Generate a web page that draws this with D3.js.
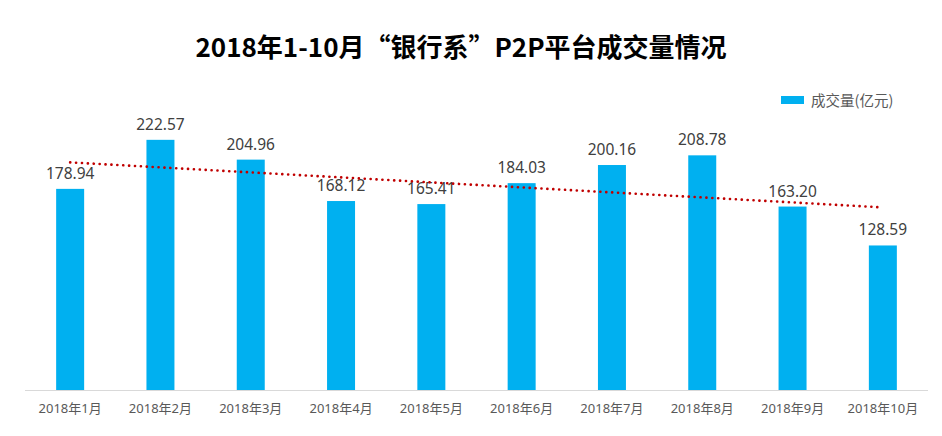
<!DOCTYPE html>
<html><head><meta charset="utf-8">
<script src="https://cdn.jsdelivr.net/npm/d3@7"></script>
<style>
html,body{margin:0;padding:0;background:#fff;}
text{font-family:"Noto Sans","Noto Sans CJK SC",sans-serif;}
</style></head>
<body><svg id="c" width="942" height="436"></svg>
<script>
const title = "2018年1-10月“银行系”P2P平台成交量情况";
const categories = ["2018年1月","2018年2月","2018年3月","2018年4月","2018年5月","2018年6月","2018年7月","2018年8月","2018年9月","2018年10月"];
const volumes = [178.94,222.57,204.96,168.12,165.41,184.03,200.16,208.78,163.20,128.59];
const seriesName = "成交量(亿元)";
const yDomain = [0,250];

const svg = d3.select("#c");
const m = {left:25, right:14, top:109, bottom:46};
const W = 942, H = 436;
const x = d3.scaleBand().domain(categories).range([m.left, W-m.right]).paddingInner(0.69).paddingOuter(0.345);
const y = d3.scaleLinear().domain(yDomain).range([H-m.bottom, m.top]);

svg.append("text").attr("x",461).attr("y",57).attr("text-anchor","middle")
  .style("font-size","26px").style("font-weight","bold").attr("fill","#000")
  .style("font-family","'Noto Sans CJK SC',sans-serif").text(title);

// bars
svg.selectAll("rect.bar").data(volumes).join("rect").attr("class","bar")
  .attr("x",(d,i)=>x(categories[i])).attr("width",x.bandwidth())
  .attr("y",d=>y(d)).attr("height",d=>y(0)-y(d)).attr("fill","#00b0f0");

// axis
const xa = svg.append("g").attr("transform",`translate(0,${y(0)})`).call(d3.axisBottom(x).tickSize(0).tickPadding(14));
xa.select(".domain").attr("stroke","#d9d9d9").attr("d",`M${m.left},0.5H${W-m.right}`);
xa.selectAll("text").attr("fill","#595959").style("font-size","13px")
  .style("font-family","'Noto Sans','Noto Sans CJK SC',sans-serif");

// value labels
svg.selectAll("text.val").data(volumes).join("text").attr("class","val")
  .attr("x",(d,i)=>x(categories[i])+x.bandwidth()/2).attr("y",d=>y(d)-10)
  .attr("text-anchor","middle").attr("fill","#404040").style("font-size","15.5px")
  .text(d=>d.toFixed(2));

// linear trend line (least squares from data)
const xs = volumes.map((d,i)=>i+1);
const mx = d3.mean(xs), my = d3.mean(volumes);
const slope = d3.sum(xs.map((xi,i)=>(xi-mx)*(volumes[i]-my))) / d3.sum(xs.map(xi=>(xi-mx)**2));
const icpt = my - slope*mx;
const trend = xs.map(xi=>icpt+slope*xi);
svg.append("path").datum(trend)
  .attr("d", d3.line().x((d,i)=>x(categories[i])+x.bandwidth()/2).y(d=>y(d)))
  .attr("fill","none").attr("stroke","#c00000").attr("stroke-width",2.6)
  .attr("stroke-linecap","round").attr("stroke-dasharray","0.1 5.8");

// legend
svg.append("rect").attr("x",781).attr("y",96).attr("width",23).attr("height",8).attr("fill","#00b0f0");
svg.append("text").attr("x",811).attr("y",105.5).attr("fill","#595959").style("font-size","14.5px")
  .style("font-family","'Noto Sans CJK SC',sans-serif").text(seriesName);
</script></body></html>
